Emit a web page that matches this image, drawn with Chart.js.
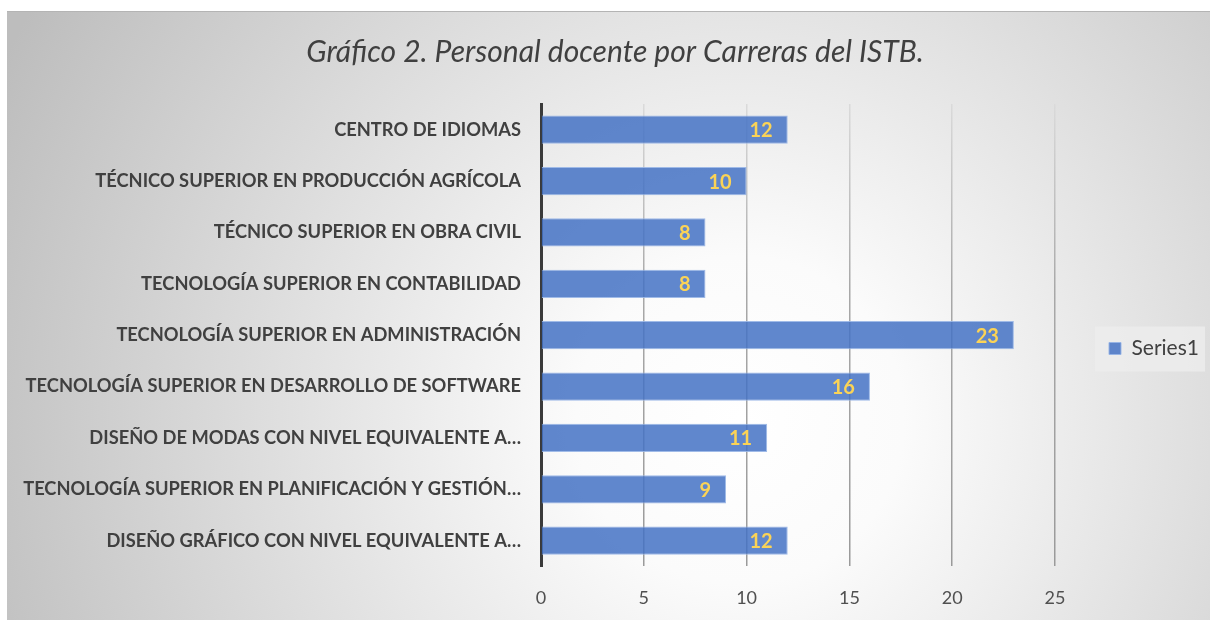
<!DOCTYPE html>
<html>
<head>
<meta charset="utf-8">
<script src="https://cdn.jsdelivr.net/npm/chart.js@4.4.1/dist/chart.umd.min.js"></script>
<style>
  html, body { margin: 0; padding: 0; background: #ffffff; }
  #wrap { width: 1210px; height: 620px; position: relative; }
</style>
</head>
<body>
<div id="wrap"><canvas id="chart_docentes"></canvas></div>
<script>
var carreras = [
    'CENTRO DE IDIOMAS',
    'TÉCNICO SUPERIOR EN PRODUCCIÓN AGRÍCOLA',
    'TÉCNICO SUPERIOR EN OBRA CIVIL',
    'TECNOLOGÍA SUPERIOR EN CONTABILIDAD',
    'TECNOLOGÍA SUPERIOR EN ADMINISTRACIÓN',
    'TECNOLOGÍA SUPERIOR EN DESARROLLO DE SOFTWARE',
    'DISEÑO DE MODAS CON NIVEL EQUIVALENTE A…',
    'TECNOLOGÍA SUPERIOR EN PLANIFICACIÓN Y GESTIÓN…',
    'DISEÑO GRÁFICO CON NIVEL EQUIVALENTE A…'
];
var series1 = [12, 10, 8, 8, 23, 16, 11, 9, 12];
var xTicks = [0, 5, 10, 15, 20, 25];

var chart_docentes = new Chart(document.getElementById('chart_docentes'), {
    type: 'bar',
    data: {
        labels: carreras,
        datasets: [{
            label: 'Series1',
            data: series1,
            backgroundColor: 'rgba(68, 114, 196, 0.85)',
            borderColor: 'rgba(150, 180, 230, 0.9)',
            borderWidth: 1,
            barPercentage: 0.55,
            categoryPercentage: 1.0
        }]
    },
    options: {
        indexAxis: 'y',
        animation: false,
        responsive: true,
        maintainAspectRatio: false,
        layout: {
            padding: { left: 20, right: 0, top: 11, bottom: -10 }
        },
        plugins: {
            title: {
                display: true,
                text: 'Gráfico 2. Personal docente por Carreras del ISTB.',
                color: '#404040',
                font: { family: 'Lato', size: 30, style: 'italic', weight: 'normal' },
                padding: { top: 23, bottom: 34 }
            },
            legend: {
                position: 'right',
                labels: {
                    color: '#404040',
                    font: { family: 'Lato', size: 21 },
                    boxWidth: 12,
                    boxHeight: 12,
                    padding: 54
                }
            },
            tooltip: { enabled: false }
        },
        scales: {
            x: {
                type: 'linear',
                min: 0,
                max: 25,
                afterBuildTicks: function(scale) {
                    scale.ticks = xTicks.map(function(v) { return { value: v }; });
                },
                ticks: {
                    color: '#505050',
                    font: { family: 'Lato', size: 18 },
                    padding: 21
                },
                grid: {
                    drawTicks: false,
                    lineWidth: 1.5,
                    color: function(context) {
                        var area = context.chart.chartArea;
                        if (!area) return '#b0b0b0';
                        var g = context.chart.ctx.createLinearGradient(0, area.top, 0, area.bottom);
                        g.addColorStop(0, '#dadada');
                        g.addColorStop(0.4, '#a8a8a8');
                        g.addColorStop(1, '#9a9a9a');
                        return g;
                    }
                },
                border: { display: false }
            },
            y: {
                afterFit: function(scale) {
                    scale.width = 521;
                },
                ticks: {
                    color: '#404040',
                    font: { family: 'Lato', size: 18.3, weight: 'bold' },
                    padding: 20
                },
                grid: { display: false, drawTicks: false },
                border: { display: true, color: '#3a3a3a', width: 3 }
            }
        }
    },
    plugins: [{
        id: 'anchoLeyenda',
        beforeLayout: function(chart) {
            var lg = chart.legend;
            if (lg && !lg._anchoFijo) {
                var fitOriginal = lg.fit;
                lg.fit = function() {
                    fitOriginal.call(this);
                    this.width = 155;
                };
                lg._anchoFijo = true;
            }
        },
        afterLayout: function(chart) {
            var lg = chart.legend;
            if (lg) {
                lg.top += 28;
                lg.bottom += 28;
            }
        }
    }, {
        id: 'fondoRadial',
        beforeDraw: function(chart) {
            var ctx = chart.ctx;
            ctx.save();
            ctx.fillStyle = '#ffffff';
            ctx.fillRect(0, 0, chart.width, chart.height);
            var g = ctx.createRadialGradient(740, 420, 0, 740, 420, 820);
            g.addColorStop(0, '#ffffff');
            g.addColorStop(0.2, '#fbfbfb');
            g.addColorStop(1, '#bdbdbd');
            ctx.fillStyle = g;
            ctx.fillRect(7, 11, chart.width - 7, chart.height - 11);
            ctx.fillStyle = '#b4b4b4';
            ctx.fillRect(7, 11, chart.width - 7, 1);
            // caja de la leyenda
            var lg = chart.legend;
            if (lg && lg.legendHitBoxes && lg.legendHitBoxes.length) {
                var hb = lg.legendHitBoxes[0];
                var cy = hb.top + hb.height / 2;
                ctx.fillStyle = 'rgba(236, 236, 236, 0.85)';
                ctx.fillRect(hb.left - 14, cy - 22, 110, 45);
            }
            ctx.restore();
        }
    }, {
        id: 'etiquetasValor',
        afterDatasetsDraw: function(chart) {
            var ctx = chart.ctx;
            var meta = chart.getDatasetMeta(0);
            ctx.save();
            ctx.fillStyle = '#fbd356';
            ctx.font = 'bold 20px Lato';
            ctx.textAlign = 'right';
            ctx.textBaseline = 'middle';
            meta.data.forEach(function(bar, i) {
                ctx.fillText(String(series1[i]), bar.x - 15, bar.y + 1);
            });
            ctx.restore();
        }
    }]
});
</script>
</body>
</html>
